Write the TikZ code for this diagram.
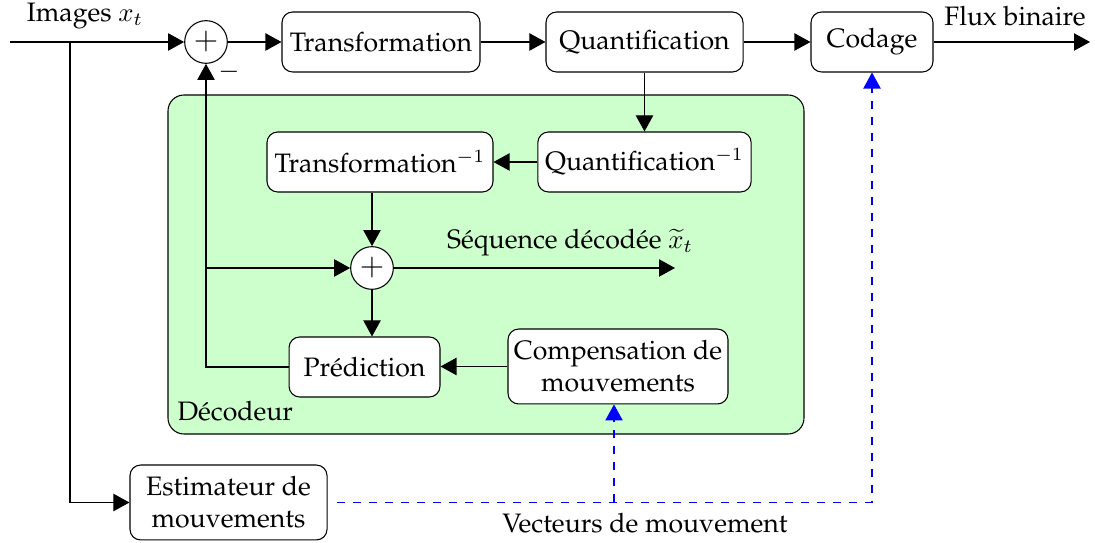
\documentclass[tikz,border=0pt]{standalone}
\usepackage[T1]{fontenc}
\usepackage{palatino}
\usetikzlibrary{arrows.meta}
\begin{document}
\begin{tikzpicture}[x=0.375pt,y=-0.375pt,
  blk/.style={draw, rounded corners=4pt, fill=white, align=center, inner sep=0pt, minimum height=22.5pt},
  blk2/.style={blk, minimum height=28.1pt},
  sumnode/.style={draw, circle, fill=white, minimum size=16pt, inner sep=0pt, font=\fontsize{13}{13}\selectfont},
  arr/.style={-{Triangle[length=6pt,width=6.5pt]}},
  vec/.style={blue, dashed},
  lbl/.style={inner sep=0pt}]
\useasboundingbox (0,0) rectangle (1095,543);

% decoder loop background
\draw[fill=green!20, rounded corners=6pt] (168,95) rectangle (804,434);
\node[lbl, anchor=west] (dec) at (177,411) {D\'ecodeur};

% forward chain
\node[sumnode] (sum1) at (206,42) {$+$};
\node[blk, minimum width=74.25pt] (tr) at (381,42) {Transformation};
\node[blk, minimum width=73.9pt] (q) at (644.5,42) {Quantification};
\node[blk, minimum width=45.75pt] (cod) at (872,42) {Codage};
\coordinate (in) at (10,42);
\coordinate (out) at (1090,42);
\coordinate (split) at (70,42);
\node[lbl] (imgs) at (85,16) {Images $x_t$};
\node[lbl] (flux) at (1015,16) {Flux binaire};
\node[lbl] (minus) at (229,72) {$-$};

% decoder blocks
\node[blk, minimum width=84.75pt] (tinv) at (380,162) {Transformation$^{-1}$};
\node[blk, minimum width=80pt] (qinv) at (644.5,162) {Quantification$^{-1}$};
\node[sumnode] (sum2) at (372,268) {$+$};
\node[blk, minimum width=56.6pt] (pred) at (364.5,367) {Pr\'ediction};
\node[blk2, minimum width=82.5pt] (comp) at (618,366.5) {Compensation de\\mouvements};
\coordinate (seq) at (675,268);
\node[lbl] (seqlbl) at (570,243) {S\'equence d\'ecod\'ee $\widetilde{x}_t$};

% motion estimation
\node[blk2, minimum width=73.9pt] (est) at (228.5,502.5) {Estimateur de\\mouvements};
\coordinate (estout) at (337,502.5);
\coordinate (tap) at (614,502.5);
\node[lbl] (veclbl) at (645,523) {Vecteurs de mouvement};

% main connectors
\draw[arr] (in) -- (sum1.west);
\draw[arr] (sum1.east) -- (tr.west);
\draw[arr] (tr.east) -- (q.west);
\draw[arr] (q.east) -- (cod.west);
\draw[arr] (cod.east) -- (out);
\draw[arr] (split) |- (est.west);

% decoder connectors
\draw[arr] (q.south) -- (qinv.north);
\draw[arr] (qinv.west) -- (tinv.east);
\draw[arr] (tinv.south -| sum2) -- (sum2.north);
\draw[arr] (sum2.south) -- (sum2.south |- pred.north);
\draw[arr] (comp.west) -- (comp.west -| pred.east);
\draw[arr] (pred.west) -| (sum1.south);
\draw[arr] (sum1 |- sum2) -- (sum2.west);
\draw[arr] (sum2.east) -- (seq);

% motion vectors
\draw[vec, arr] (estout) -| (cod.south);
\draw[vec, arr] (tap) -- (tap |- comp.south);
\end{tikzpicture}
\end{document}
